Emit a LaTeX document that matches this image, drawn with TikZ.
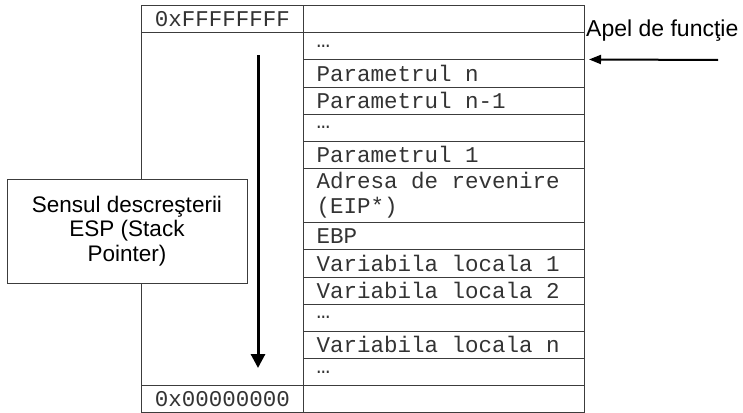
\documentclass[tikz,border=0pt]{standalone}
\usepackage{fontspec}
\setmainfont{Liberation Sans}
\newfontfamily\monofont{Liberation Mono}
\usetikzlibrary{arrows.meta}
\definecolor{rule}{HTML}{3C3C3C}
\definecolor{ink}{HTML}{333333}
% monospaced text with fixed, full-width spaces
\newcommand\cellfont{\monofont\fontsize{22.5}{25}\selectfont\spaceskip=0.6em plus 0pt minus 0pt\relax}
\begin{document}
\begin{tikzpicture}[x=1pt,y=-1pt,
  cell/.style={draw=rule, line width=1pt, anchor=north west,
    minimum width=281pt, minimum height=27.13pt,
    inner xsep=13pt, inner ysep=0pt, text width=255pt, align=flush left,
    font=\cellfont, text=ink},
  addr/.style={draw=rule, line width=1pt, anchor=north west,
    minimum width=162pt, minimum height=27.13pt, inner sep=0pt,
    font=\cellfont, text=ink},
  note/.style={draw=rule, line width=1pt, fill=white,
    minimum width=240pt, minimum height=104pt, align=center,
    font=\fontsize{22.5}{24.5}\selectfont},
  flow/.style={line width=3pt, -{Triangle[length=14pt,width=14pt]}},
  call/.style={line width=2pt, -{Triangle[length=12pt,width=9pt]}}]
\useasboundingbox (0,0) rectangle (743,412);

% stack contents, one row per cell
\node[cell] (r0)  at (303,5.2)    {};
\node[cell] (r1)  at (303,32.33)  {…};
\node[cell] (r2)  at (303,59.46)  {Parametrul n};
\node[cell] (r3)  at (303,86.59)  {Parametrul n-1};
\node[cell] (r4)  at (303,113.72) {…};
\node[cell] (r5)  at (303,140.85) {Parametrul 1};
\node[cell, minimum height=54.26pt] (r6) at (303,167.98) {Adresa de revenire\\(EIP*)};
\node[cell] (r8)  at (303,222.24) {EBP};
\node[cell] (r9)  at (303,249.37) {Variabila locala 1};
\node[cell] (r10) at (303,276.50) {Variabila locala 2};
\node[cell] (r11) at (303,303.63) {…};
\node[cell] (r12) at (303,330.76) {Variabila locala n};
\node[cell] (r13) at (303,357.89) {…};
\node[cell] (r14) at (303,385.02) {};

% address column
\node[addr] (hi)  at (141,5.2)   {0xFFFFFFFF};
\node[addr, minimum height=352.69pt] (span) at (141,32.33) {};
\node[addr] (lo)  at (141,385.02) {0x00000000};

% direction of ESP
\node[note] (esp) at (127,231) {Sensul descreşterii\\ESP (Stack\\Pointer)};
\coordinate (spTop) at (258,55);
\coordinate (spEnd) at (258,368);
\draw[flow] (spTop) -- (spEnd);

% function call
\node[anchor=base west, inner sep=0pt, font=\fontsize{23}{26}\selectfont] (callLbl) at (586,37) {Apel de funcţie};
\coordinate (callStart) at (718,60);
\draw[call] (callStart) -- ([xshift=4pt]r2.north east);
\end{tikzpicture}
\end{document}
